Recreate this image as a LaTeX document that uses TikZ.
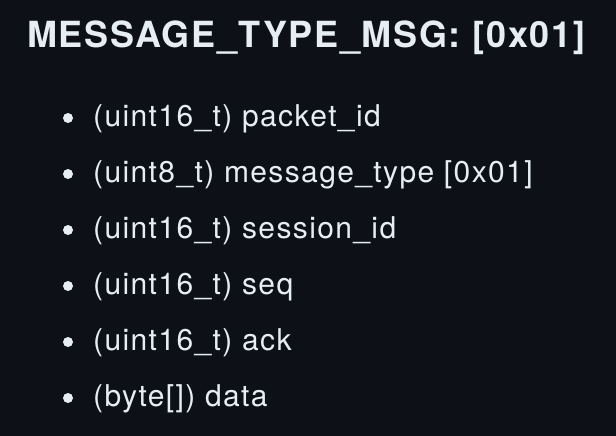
\documentclass[tikz,border=0pt]{standalone}
\usepackage{fontspec}
\setmainfont{TeX Gyre Heros}
\usetikzlibrary{positioning}
\definecolor{pagebg}{RGB}{13,17,23}
\definecolor{pagefg}{RGB}{230,237,243}
\tikzset{%
	heading/.style = {anchor=base west, inner sep=0pt, text=pagefg, font=\fontsize{36}{40}\selectfont\bfseries\addfontfeatures{LetterSpace=4.7}}, % Title
	field/.style   = {anchor=base west, inner sep=0pt, text=pagefg, font=\fontsize{30}{34}\selectfont\addfontfeatures{LetterSpace=4.6}}, % List entry
	dot/.style     = {circle, fill=pagefg, inner sep=0pt, minimum size=10pt}, % Bullet
}

\begin{document}
\begin{tikzpicture}[x=1pt, y=-1pt]
	\fill[pagebg] (0,0) rectangle (616,436);
	\useasboundingbox (0,0) rectangle (616,436);
	\node[heading] (title) at (27,48) {MESSAGE\_TYPE\_MSG: [0x01]};
	
	\foreach \txt [count=\i] in {%
		(uint16\_t) packet\_id,
		(uint8\_t) message\_type [0x01],
		(uint16\_t) session\_id,
		(uint16\_t) seq,
		(uint16\_t) ack,
		(byte[]) data}
	{
		\node[field] (f\i) at (93,{126+56*(\i-1)}) {\txt};
		\node[dot] (b\i) at (68,{118+56*(\i-1)}) {};
	}
\end{tikzpicture}
\end{document}
